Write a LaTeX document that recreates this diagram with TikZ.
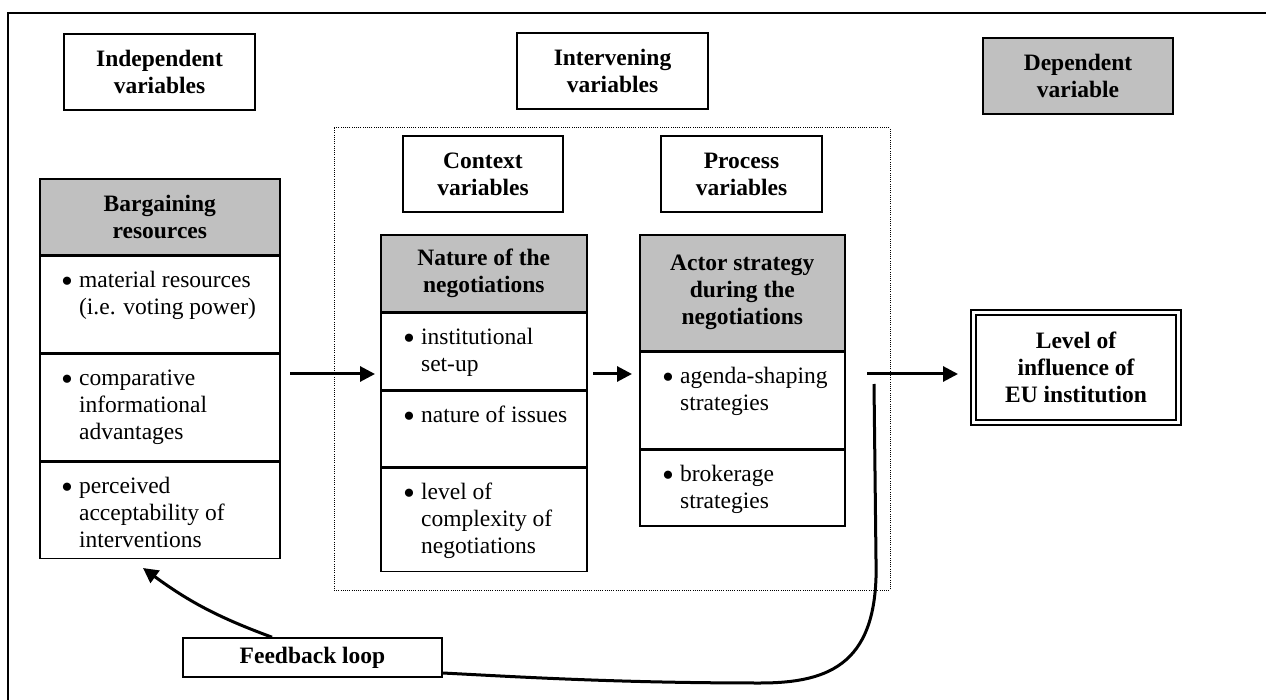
\documentclass[tikz,border=0pt]{standalone}
\usepackage{fontspec}
\setmainfont{Liberation Serif}
\usetikzlibrary{arrows.meta}

\definecolor{hdrgrey}{RGB}{192,192,192}

% bullet point with the following lines hanging under the text
\newcommand{\pnt}[1]{\raisebox{-5pt}{\scalebox{1.45}{\textbullet}}\hspace{6pt}\begin{tabular}[t]{@{}l@{}}#1\end{tabular}}

\begin{document}
\begin{tikzpicture}[x = 1pt, y = -1pt,
	every node/.style = {font = \fontsize{23.5}{27}\selectfont, inner sep = 0pt},
	title/.style = {draw, line width = 1.6pt, align = center,
		font = \fontsize{23.5}{27}\selectfont\bfseries,
		minimum width = 191pt, minimum height = 76pt},
	head/.style = {draw, line width = 1.6pt, fill = hdrgrey, align = center,
		font = \fontsize{23.5}{27}\selectfont\bfseries, anchor = north west,
		minimum width = #1},
	cell/.style = {draw, line width = 1.6pt, anchor = north west, minimum width = #1},
	itm/.style = {anchor = north west, align = left},
	flow/.style = {line width = 3pt, -{Triangle[length = 15pt, width = 15pt]}}]

	\useasboundingbox (0,0) rectangle (1266,700);

	% page frame (top and left only)
	\draw[line width = 1.8pt] (8,700) -- (8,13) -- (1266,13);

	% column titles
	\node[title] (indep)  at (159.5, 72) {Independent\\variables};
	\node[title] (interv) at (612.5, 71) {Intervening\\variables};
	\node[title, fill = hdrgrey, minimum width = 190pt] (dep) at (1078, 76) {Dependent\\variable};

	% intervening block
	\draw[line width = 1pt, dash pattern = on 1pt off 1.2pt] (334,128) rectangle (890,590);
	\node[title, minimum width = 160pt] (context) at (483,   174) {Context\\variables};
	\node[title, minimum width = 161pt] (process) at (741.5, 174) {Process\\variables};

	% bargaining resources
	\node[head = 240pt, minimum height = 76pt] (barg) at (39, 178) {Bargaining\\resources};
	\node[cell = 240pt, minimum height = 96pt]  (barg1) at (barg.south west)  {};
	\node[cell = 240pt, minimum height = 107pt] (barg2) at (barg1.south west) {};
	\node[cell = 240pt, minimum height = 96pt]  (barg3) at (barg2.south west) {};
	\node[itm] (barg1t) at ([shift = {(22pt,-13pt)}]barg1.north west) {\pnt{material resources\\(i.e. voting power)}};
	\node[itm] (barg2t) at ([shift = {(22pt,-13pt)}]barg2.north west) {\pnt{comparative\\informational\\advantages}};
	\node[itm] (barg3t) at ([shift = {(22pt,-13pt)}]barg3.north west) {\pnt{perceived\\acceptability of\\interventions}};

	% nature of the negotiations
	\node[head = 206pt, minimum height = 77pt] (nat) at (380, 234) {Nature of the\\negotiations};
	\node[cell = 206pt, minimum height = 76pt]  (nat1) at (nat.south west)  {};
	\node[cell = 206pt, minimum height = 76pt]  (nat2) at (nat1.south west) {};
	\node[cell = 206pt, minimum height = 103pt] (nat3) at (nat2.south west) {};
	\node[itm] (nat1t) at ([shift = {(23pt,-13pt)}]nat1.north west) {\pnt{institutional\\set-up}};
	\node[itm] (nat2t) at ([shift = {(23pt,-13pt)}]nat2.north west) {\pnt{nature of issues}};
	\node[itm] (nat3t) at ([shift = {(23pt,-13pt)}]nat3.north west) {\pnt{level of\\complexity of\\negotiations}};

	% actor strategy
	\node[head = 205pt, minimum height = 116pt] (act) at (639, 234) {Actor strategy\\during the\\negotiations};
	\node[cell = 205pt, minimum height = 96pt] (act1) at (act.south west)  {};
	\node[cell = 205pt, minimum height = 76pt] (act2) at (act1.south west) {};
	\node[itm] (act1t) at ([shift = {(23pt,-13pt)}]act1.north west) {\pnt{agenda-shaping\\strategies}};
	\node[itm] (act2t) at ([shift = {(23pt,-13pt)}]act2.north west) {\pnt{brokerage\\strategies}};

	% outcome
	\node[draw, double, double distance = 2.5pt, line width = 2.2pt, align = center,
		font = \fontsize{23.5}{27}\selectfont\bfseries,
		minimum width = 205pt, minimum height = 110pt] (level) at (1076, 367.5)
		{Level of\\influence of\\EU institution};

	\node[title, minimum width = 259pt, minimum height = 39pt] (fb) at (312.5, 657.5) {Feedback loop};

	% arrow ends
	\coordinate (bargout) at (290, 374);
	\coordinate (natin)   at (375, 374);
	\coordinate (natout)  at (593, 374);
	\coordinate (actin)   at (632, 374);
	\coordinate (actout)  at (867, 374);
	\coordinate (levin)   at (958, 374);
	\coordinate (fbfrom)  at (874, 384);
	\coordinate (fbtip)   at (143, 568);

	\foreach \from/\to in {bargout/natin, natout/actin, actout/levin}
		\draw[flow] (\from) -- (\to);

	% feedback loop
	\draw[line width = 3pt] (fbfrom) -- (876, 560) .. controls (879, 662) and (832, 683) .. (760, 683)
		.. controls (620, 683) and (520, 677) .. ([yshift = -15.5pt]fb.east);
	\draw[flow] ([xshift = -40.5pt]fb.north) to[bend left = 8] (fbtip);

\end{tikzpicture}
\end{document}
